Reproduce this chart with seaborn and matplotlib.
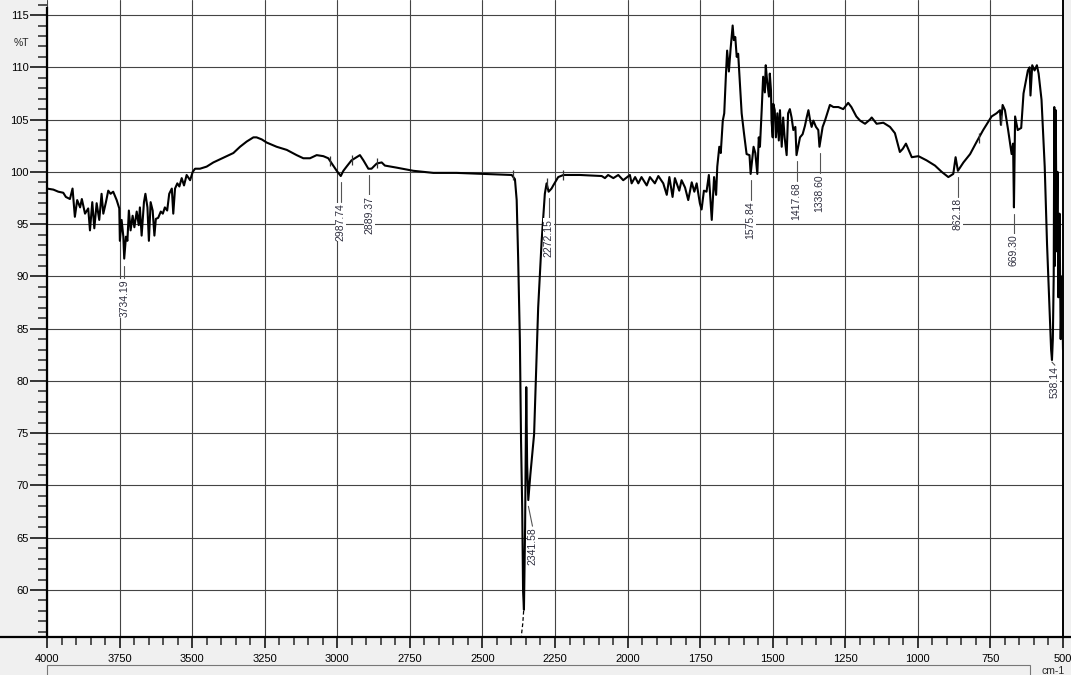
import matplotlib
matplotlib.use("Agg")
import matplotlib.pyplot as plt
from matplotlib.patches import Rectangle
from matplotlib.lines import Line2D
from matplotlib.ticker import MultipleLocator
import numpy as np
import pandas as pd
import seaborn as sns

numero_onda = [
    4000, 3978, 3961, 3944, 3935, 3921, 3912, 3904, 3896, 3886, 3880, 3869,
    3858, 3852, 3844, 3837, 3829, 3820, 3812, 3806, 3797, 3789, 3781, 3772,
    3760, 3751, 3749, 3743, 3737, 3734, 3728, 3723, 3718, 3712, 3705, 3699,
    3691, 3684, 3680, 3674, 3666, 3661, 3654, 3649, 3643, 3636, 3630, 3625,
    3617, 3608, 3601, 3594, 3586, 3579, 3570, 3565, 3559, 3551, 3544, 3536,
    3528, 3519, 3507, 3498, 3490, 3473, 3450, 3427, 3404, 3381, 3358, 3335,
    3312, 3289, 3278, 3260, 3243, 3209, 3174, 3140, 3117, 3094, 3071, 3048,
    3031, 3014, 3002, 2988, 2979, 2968, 2951, 2922, 2910, 2893, 2882, 2864,
    2847, 2836, 2795, 2738, 2669, 2589, 2497, 2399, 2388, 2382, 2377, 2371,
    2367, 2363, 2360, 2357, 2353, 2349, 2346, 2342, 2335, 2322, 2308, 2296,
    2285, 2279, 2272, 2262, 2256, 2239, 2221, 2164, 2089, 2078, 2067, 2049,
    2032, 2015, 1992, 1986, 1974, 1963, 1952, 1934, 1923, 1906, 1894, 1877,
    1865, 1856, 1845, 1837, 1822, 1814, 1802, 1791, 1779, 1770, 1762, 1751,
    1745, 1737, 1728, 1720, 1710, 1702, 1695, 1691, 1684, 1679, 1672, 1667,
    1661, 1657, 1651, 1645, 1638, 1634, 1629, 1624, 1619, 1613, 1607, 1599,
    1590, 1580, 1576, 1566, 1560, 1553, 1548, 1544, 1538, 1533, 1527, 1524,
    1519, 1513, 1510, 1506, 1504, 1500, 1498, 1493, 1489, 1484, 1479, 1475,
    1469, 1464, 1459, 1452, 1447, 1441, 1435, 1429, 1422, 1418, 1406, 1397,
    1389, 1383, 1377, 1371, 1366, 1360, 1351, 1343, 1339, 1328, 1320, 1312,
    1303, 1291, 1274, 1257, 1240, 1229, 1212, 1199, 1182, 1165, 1159, 1142,
    1119, 1096, 1079, 1062, 1052, 1041, 1021, 998, 970, 941, 918, 895,
    878, 870, 862, 843, 820, 797, 775, 746, 729, 717, 714, 708,
    700, 689, 677, 672, 669, 665, 656, 644, 636, 621, 615, 612,
    606, 598, 590, 584, 574, 563, 555, 546, 541, 538, 535, 532,
    530, 528, 525, 522, 519, 516, 512, 508, 504, 500,
]
transmitancia = [
    98.4, 98.3, 98.1, 98.0, 97.6, 97.4, 98.4, 95.7, 97.3, 96.6, 97.4, 96.0,
    96.5, 94.4, 97.1, 94.6, 97.0, 95.4, 97.9, 96.0, 97.1, 98.2, 97.9, 98.1,
    97.3, 96.5, 93.4, 95.4, 93.8, 91.7, 93.8, 93.4, 96.3, 94.4, 95.8, 94.7,
    96.2, 94.9, 96.6, 93.9, 97.1, 97.9, 96.6, 93.4, 97.1, 96.3, 93.9, 95.5,
    95.6, 96.2, 96.0, 96.6, 96.3, 97.9, 98.4, 96.0, 98.4, 98.9, 98.6, 99.4,
    98.7, 99.7, 99.2, 100.0, 100.3, 100.3, 100.5, 100.9, 101.2, 101.5, 101.8, 102.4,
    102.9, 103.3, 103.3, 103.1, 102.8, 102.4, 102.1, 101.6, 101.3, 101.3, 101.6, 101.5,
    101.3, 100.6, 100.1, 99.6, 100.1, 100.5, 101.1, 101.6, 101.1, 100.3, 100.3, 100.8,
    100.9, 100.6, 100.4, 100.1, 99.9, 99.9, 99.8, 99.7, 99.3, 97.3, 91.8, 83.9,
    74.3, 67.9, 59.9, 58.1, 66.0, 79.4, 72.0, 68.6, 71.0, 74.9, 87.0, 93.4,
    97.9, 98.9, 98.1, 98.4, 98.7, 99.5, 99.7, 99.7, 99.6, 99.4, 99.7, 99.4,
    99.7, 99.2, 99.7, 98.9, 99.5, 98.9, 99.5, 98.7, 99.5, 98.9, 99.6, 98.9,
    97.8, 99.5, 97.6, 99.4, 98.2, 99.2, 98.5, 97.3, 99.0, 98.1, 98.9, 97.0,
    96.4, 98.2, 98.1, 99.7, 95.4, 99.5, 97.8, 100.5, 102.4, 101.8, 104.9, 105.6,
    109.4, 111.6, 109.6, 111.8, 114.0, 112.6, 112.9, 111.0, 111.3, 108.5, 105.6, 103.7,
    101.7, 101.6, 99.8, 102.4, 101.8, 99.8, 103.3, 102.4, 105.9, 109.1, 107.6, 110.2,
    108.6, 107.2, 109.4, 107.8, 104.9, 103.3, 106.5, 105.9, 103.3, 105.6, 103.0, 105.9,
    102.4, 105.2, 103.3, 101.6, 105.6, 106.0, 105.2, 104.0, 104.3, 101.6, 103.3, 103.6,
    104.4, 105.2, 105.9, 104.9, 104.3, 104.9, 104.3, 104.0, 102.4, 104.3, 104.9, 105.6,
    106.4, 106.2, 106.2, 106.0, 106.6, 106.2, 105.3, 104.9, 104.6, 105.0, 105.2, 104.6,
    104.7, 104.3, 103.7, 101.9, 102.2, 102.7, 101.4, 101.5, 101.1, 100.6, 100.0, 99.5,
    99.8, 101.4, 100.1, 100.9, 101.7, 102.9, 104.0, 105.3, 105.6, 105.9, 104.5, 106.4,
    105.9, 104.0, 101.7, 102.7, 96.6, 105.3, 104.0, 104.2, 107.5, 109.7, 110.0, 107.3,
    110.2, 109.7, 110.2, 109.4, 106.9, 100.5, 93.1, 86.7, 83.0, 82.0, 84.0, 90.0,
    106.2, 91.0, 105.9, 92.4, 100.0, 88.0, 96.0, 84.0, 90.0, 83.0,
]

# picos marcados
picos_onda = [3734.19, 2987.74, 2889.37, 2341.58, 2272.15, 1575.84,
              1417.68, 1338.60, 862.18, 669.30, 538.14]
picos_t = [91.7, 99.6, 100.3, 68.6, 98.1, 99.8, 101.6, 102.4, 100.1, 96.6, 82.0]

# pequenas marcas verticais sobre a curva
marcas_onda = [3025, 2950, 2864, 2396, 2278, 2223, 790, 714]
marcas_t = [101.0, 101.1, 100.8, 99.7, 98.9, 99.7, 103.2, 105.0]

# trecho fora de escala (tracejado)
fora_onda = [2358, 2361, 2366]
fora_t = [58.0, 56.8, 55.6]

df = pd.DataFrame({"cm": numero_onda, "T": transmitancia})

sns.set_theme(style="white")
plt.rcParams['font.family'] = ['Liberation Sans', 'DejaVu Sans']

W, H = 1071, 675
fig = plt.figure(figsize=(W / 100, H / 100), dpi=100, facecolor="#f0f0f0")
ax = fig.add_axes([47 / W, (H - 637) / H, (1063 - 47) / W, 637 / H])
ax.set_facecolor("white")

sns.lineplot(data=df, x="cm", y="T", ax=ax, color="black", linewidth=1.5,
             sort=False, estimator=None)
ax.plot(fora_onda, fora_t, color="black", linewidth=0.9, linestyle=(0, (3, 2)))
ax.plot(marcas_onda, marcas_t, linestyle="none", marker="|", markersize=7,
        markeredgewidth=0.9, color="#333333")

ax.set_xlim(4000, 500)
ax.set_ylim(55.5, 116.44)

# grade
ax.xaxis.set_major_locator(MultipleLocator(250))
ax.xaxis.set_minor_locator(MultipleLocator(50))
ax.yaxis.set_major_locator(MultipleLocator(5))
ax.yaxis.set_minor_locator(MultipleLocator(1))
ax.grid(True, which="major", color="#444444", linewidth=0.8)
ax.set_axisbelow(True)

ax.set_yticks(np.arange(60, 116, 5))
ax.set_yticklabels([str(v) for v in range(60, 116, 5)])
ax.tick_params(axis="y", which="major", direction="out", length=12, width=1.1,
               pad=1, labelsize=8, colors="black", left=True)
ax.tick_params(axis="y", which="minor", direction="out", length=6.5, width=1.1,
               left=True)
ax.tick_params(axis="x", which="major", direction="out", length=8, width=1.1,
               pad=4.5, labelsize=8, colors="black", bottom=True)
ax.tick_params(axis="x", which="minor", direction="out", length=5.5, width=1.1,
               bottom=True)
ax.set_xlabel("")
ax.set_ylabel("")

ax.spines["top"].set_visible(False)
ax.spines["left"].set_linewidth(1.6)
ax.spines["left"].set_color("black")
ax.spines["left"].set_bounds(55.5, 115.7)
ax.spines["right"].set_linewidth(1.4)
ax.spines["right"].set_color("black")
ax.spines["bottom"].set_visible(False)

# linha inferior que atravessa a figura
fig.add_artist(Line2D([0, 1], [(H - 637) / H] * 2, color="black",
                      linewidth=1.6, transform=fig.transFigure))

# rotulos dos picos
desloc = {2341.58: -14, 538.14: -10}
for onda, t in zip(picos_onda, picos_t):
    dx = desloc.get(onda, 0)
    if onda == 538.14:
        topo = t - 0.5
        inicio = t - 0.2
    elif onda == 3734.19:
        inicio = t - 0.7
        topo = t - 1.9
    else:
        inicio = t - 0.6
        topo = t - 2.5
    ax.plot([onda, onda + dx], [inicio, topo], color="#555555", linewidth=0.8)
    ax.text(onda + dx, topo - 0.1, f"{onda:.2f}", rotation=90, ha="center",
            va="top", fontsize=7.5, color="#2f2f3f",
            bbox=dict(facecolor="white", edgecolor="none", pad=0.3))

# caixa inferior e textos
fig.add_artist(Rectangle((47 / W, -0.01), (1030 - 47) / W, 0.01 + 10 / H,
                         facecolor="none", edgecolor="#777777", linewidth=0.8,
                         transform=fig.transFigure))
fig.text(1053 / W, 1 - 671 / H, "cm-1", ha="center", va="center", fontsize=7.5)
fig.text(21 / W, 1 - 43 / H, "%T", ha="center", va="center", fontsize=7.5)

fig.savefig("out.png", dpi=100, facecolor=fig.get_facecolor())
